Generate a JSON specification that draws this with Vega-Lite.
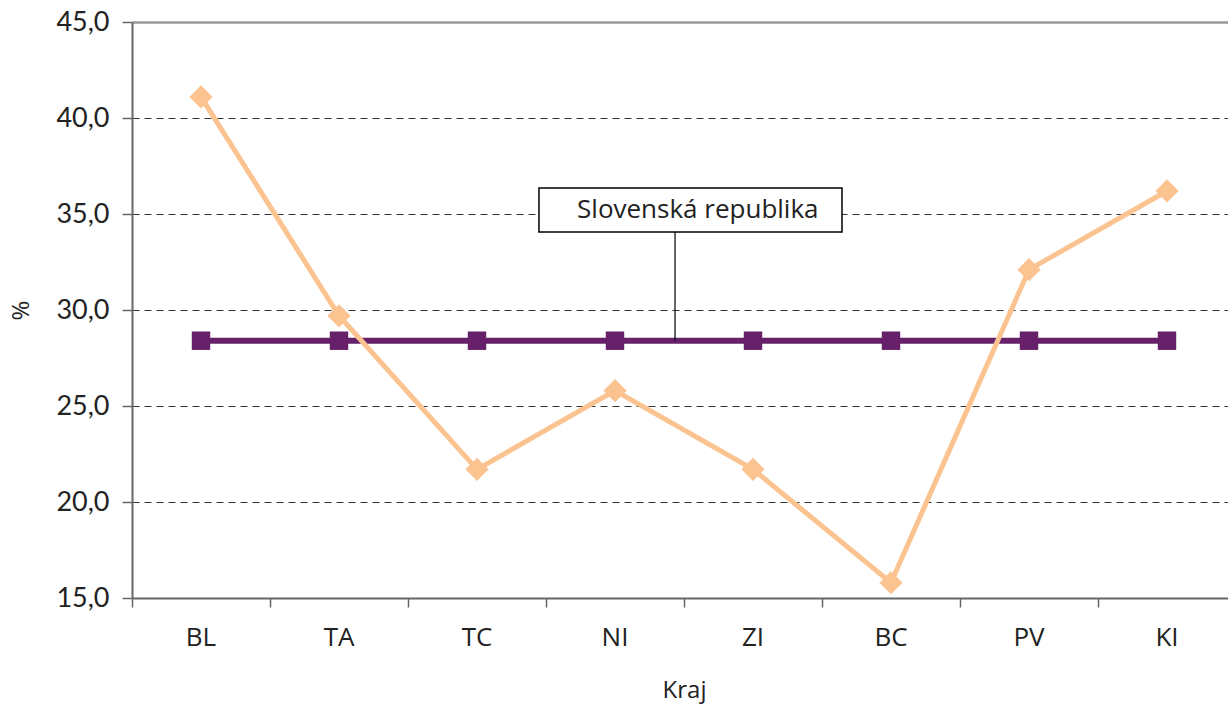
{
  "$schema": "https://vega.github.io/schema/vega-lite/v6.json",
  "autosize": {"type": "none"},
  "padding": {"left": 132, "top": 22, "right": 0, "bottom": 108},
  "width": 1096,
  "height": 576,
  "background": "white",
  "config": {
    "view": {"stroke": null},
    "axis": {"labelColor": "#222", "titleColor": "#222", "titleFontWeight": "normal"}
  },
  "datasets": {
    "main": [
      {"kraj": "BL", "series": "Kraj", "value": 41.1},
      {"kraj": "TA", "series": "Kraj", "value": 29.7},
      {"kraj": "TC", "series": "Kraj", "value": 21.7},
      {"kraj": "NI", "series": "Kraj", "value": 25.8},
      {"kraj": "ZI", "series": "Kraj", "value": 21.7},
      {"kraj": "BC", "series": "Kraj", "value": 15.8},
      {"kraj": "PV", "series": "Kraj", "value": 32.1},
      {"kraj": "KI", "series": "Kraj", "value": 36.2},
      {"kraj": "BL", "series": "SR", "value": 28.4},
      {"kraj": "TA", "series": "SR", "value": 28.4},
      {"kraj": "TC", "series": "SR", "value": 28.4},
      {"kraj": "NI", "series": "SR", "value": 28.4},
      {"kraj": "ZI", "series": "SR", "value": 28.4},
      {"kraj": "BC", "series": "SR", "value": 28.4},
      {"kraj": "PV", "series": "SR", "value": 28.4},
      {"kraj": "KI", "series": "SR", "value": 28.4}
    ],
    "note": [
      {"label": "Slovenská republika", "bx1": 2.949, "bx2": 5.145, "by1": 34.06, "by2": 36.35, "lx": 3.935, "ly1": 34.06, "ly2": 28.4, "tx": 4.1, "ty": 35.2}
    ]
  },
  "resolve": {"scale": {"x": "independent"}, "axis": {"x": "independent"}},
  "encoding": {
    "y": {
      "field": "value",
      "type": "quantitative",
      "scale": {"domain": [15, 45], "nice": false, "zero": false},
      "axis": {
        "title": "%",
        "titleFont": "Open Sans",
        "titleFontSize": 24,
        "titlePadding": 22,
        "titleAngle": -90,
        "values": [15, 20, 25, 30, 35, 40, 45],
        "labelExpr": "replace(format(datum.value, '.1f'), '.', ',')",
        "labelFont": "Lato",
        "labelFontSize": 27,
        "labelPadding": 13,
        "tickSize": 10,
        "tickColor": "#666",
        "tickWidth": 1.5,
        "domainColor": "#666",
        "domainWidth": 2,
        "grid": true,
        "gridColor": {"condition": {"test": "datum.value == 45", "value": "#999"}, "value": "#333"},
        "gridDash": {"condition": {"test": "datum.value == 45", "value": []}, "value": [7, 5]},
        "gridWidth": {"condition": {"test": "datum.value == 45", "value": 2.5}, "value": 1},
        "gridOpacity": {"condition": {"test": "datum.value == 15", "value": 0}, "value": 1}
      }
    }
  },
  "layer": [
    {
      "data": {"name": "main"},
      "transform": [{"filter": "datum.series == 'SR'"}],
      "mark": {"type": "line", "color": "#66216A", "strokeWidth": 6},
      "encoding": {
        "x": {
          "field": "kraj", "type": "nominal", "sort": null,
          "scale": {"type": "band", "domain": ["BL", "TA", "TC", "NI", "ZI", "BC", "PV", "KI"], "range": [0, 1104], "paddingInner": 0, "paddingOuter": 0},
          "axis": {"orient": "bottom", "bandPosition": 0, "labels": false, "title": null, "domainColor": "#666", "domainWidth": 2, "tickColor": "#666", "tickWidth": 1.5, "tickSize": 9, "grid": false}
        }
      }
    },
    {
      "data": {"name": "main"},
      "transform": [{"filter": "datum.series == 'SR'"}],
      "mark": {"type": "point", "shape": "square", "filled": true, "opacity": 1, "color": "#66216A", "size": 340},
      "encoding": {
        "x": {
          "field": "kraj", "type": "nominal", "sort": null,
          "scale": {"type": "band", "domain": ["BL", "TA", "TC", "NI", "ZI", "BC", "PV", "KI"], "range": [0, 1104], "paddingInner": 0, "paddingOuter": 0},
          "axis": {"orient": "bottom", "domain": false, "ticks": false, "grid": false, "labelAngle": 0, "labelFont": "Open Sans", "labelFontSize": 26, "labelPadding": 26, "title": "Kraj", "titleFont": "Open Sans", "titleFontSize": 24, "titlePadding": 28}
        }
      }
    },
    {
      "data": {"name": "main"},
      "transform": [{"filter": "datum.series == 'Kraj'"}],
      "mark": {"type": "line", "color": "#FBC390", "strokeWidth": 5},
      "encoding": {
        "x": {
          "field": "kraj", "type": "nominal", "sort": null,
          "scale": {"type": "band", "domain": ["BL", "TA", "TC", "NI", "ZI", "BC", "PV", "KI"], "range": [0, 1104], "paddingInner": 0, "paddingOuter": 0},
          "axis": null
        }
      }
    },
    {
      "data": {"name": "main"},
      "transform": [{"filter": "datum.series == 'Kraj'"}],
      "mark": {"type": "point", "shape": "diamond", "filled": true, "opacity": 1, "color": "#FBC390", "size": 540},
      "encoding": {
        "x": {
          "field": "kraj", "type": "nominal", "sort": null,
          "scale": {"type": "band", "domain": ["BL", "TA", "TC", "NI", "ZI", "BC", "PV", "KI"], "range": [0, 1104], "paddingInner": 0, "paddingOuter": 0},
          "axis": null
        }
      }
    },
    {
      "data": {"name": "note"},
      "mark": {"type": "rule", "color": "#000", "strokeWidth": 1.2},
      "encoding": {
        "x": {"field": "lx", "type": "quantitative", "scale": {"domain": [0, 8], "range": [0, 1104], "nice": false, "zero": false}, "axis": null},
        "y": {"field": "ly1", "type": "quantitative"},
        "y2": {"field": "ly2"}
      }
    },
    {
      "data": {"name": "note"},
      "mark": {"type": "rect", "fill": "white", "stroke": "#000", "strokeWidth": 1.5},
      "encoding": {
        "x": {"field": "bx1", "type": "quantitative", "scale": {"domain": [0, 8], "range": [0, 1104], "nice": false, "zero": false}, "axis": null},
        "x2": {"field": "bx2"},
        "y": {"field": "by1", "type": "quantitative"},
        "y2": {"field": "by2"}
      }
    },
    {
      "data": {"name": "note"},
      "mark": {"type": "text", "font": "Open Sans", "fontSize": 26, "color": "#222", "align": "center", "baseline": "middle"},
      "encoding": {
        "x": {"field": "tx", "type": "quantitative", "scale": {"domain": [0, 8], "range": [0, 1104], "nice": false, "zero": false}, "axis": null},
        "y": {"field": "ty", "type": "quantitative"},
        "text": {"field": "label"}
      }
    }
  ]
}
